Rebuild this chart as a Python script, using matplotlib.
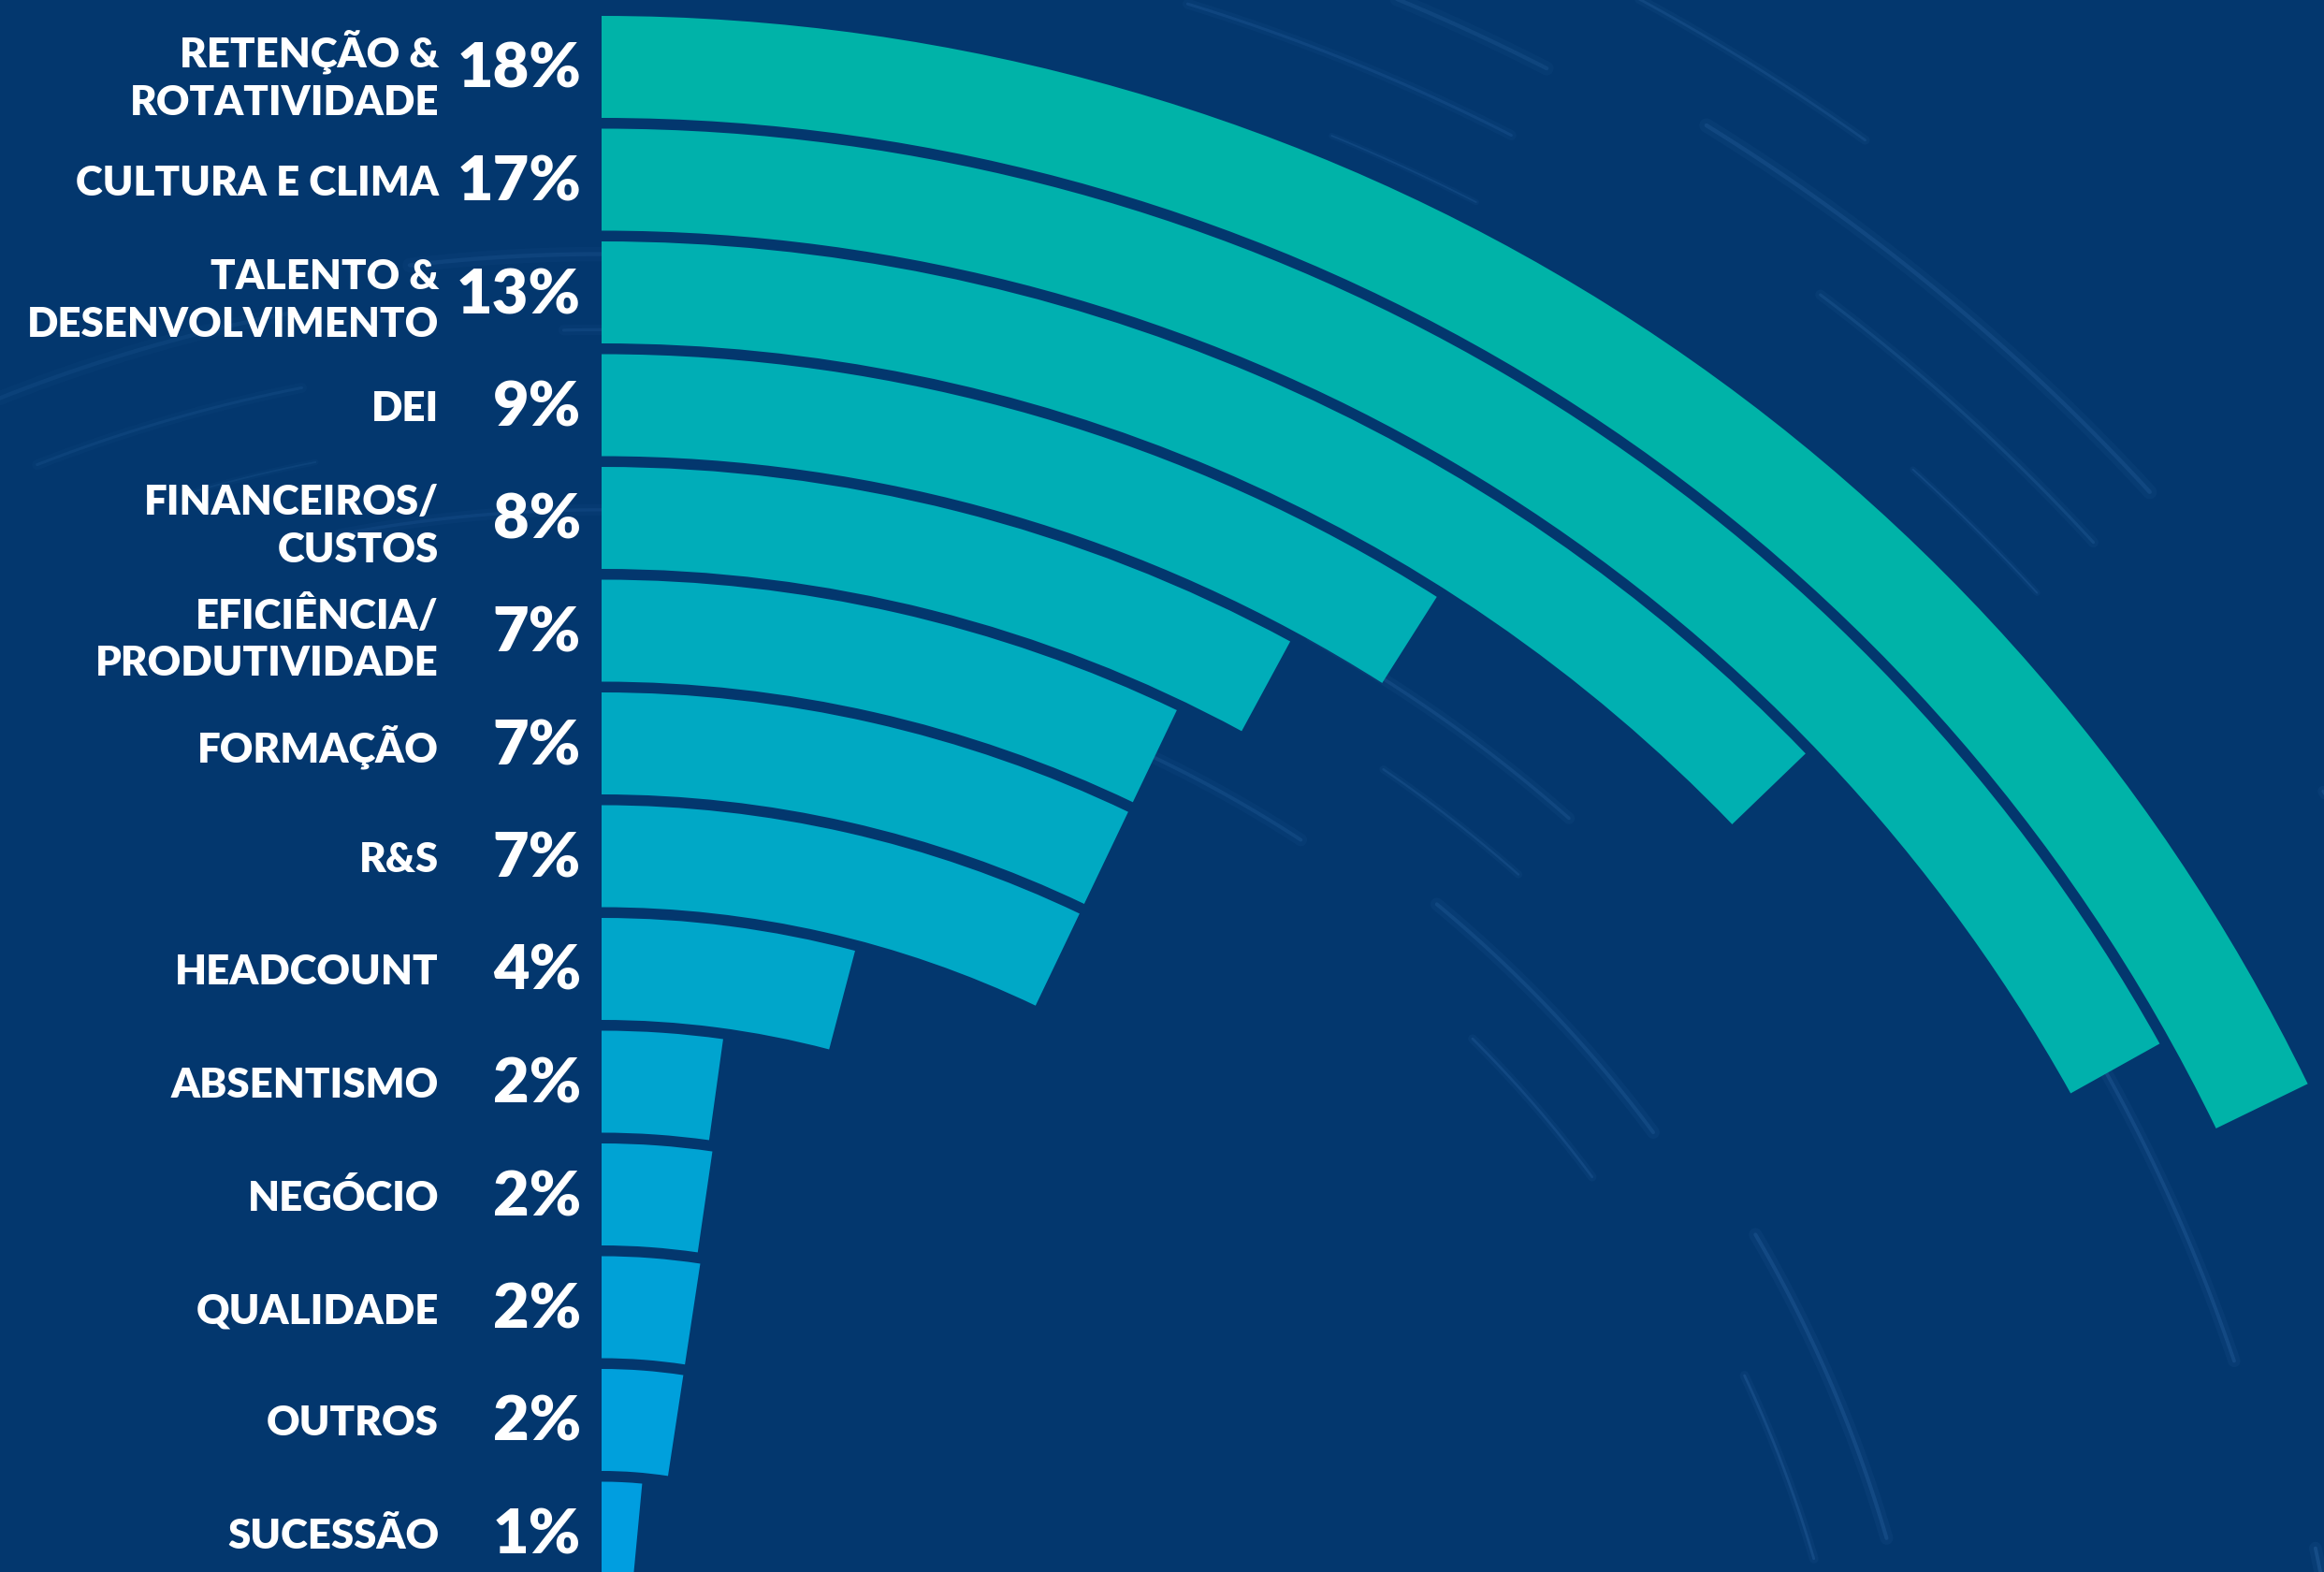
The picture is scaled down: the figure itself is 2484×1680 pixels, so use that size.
import numpy as np
import matplotlib
matplotlib.use("Agg")
import matplotlib.pyplot as plt
from matplotlib.colors import LinearSegmentedColormap

# Dados
categorias = ["RETENÇÃO &\nROTATIVIDADE", "CULTURA E CLIMA", "TALENTO &\nDESENVOLVIMENTO",
              "DEI", "FINANCEIROS/\nCUSTOS", "EFICIÊNCIA/\nPRODUTIVIDADE", "FORMAÇÃO",
              "R&S", "HEADCOUNT", "ABSENTISMO", "NEGÓCIO", "QUALIDADE", "OUTROS", "SUCESSÃO"]
valores = [17.8, 16.9, 12.8, 9.0, 7.9, 7.1, 7.1, 7.1, 4.1, 2.2, 2.3, 2.4, 2.4, 1.5]
rotulos_pct = ["18%", "17%", "13%", "9%", "8%", "7%", "7%", "7%",
               "4%", "2%", "2%", "2%", "2%", "1%"]

# Layout (pixels)
W, H = 2484, 1680
cx, cy_down = 643, 2044.6
cy = H - cy_down
R_MAX = 2800
passo, espessura, topo = 120.5, 109, 17

fundo = "#03376E"
fig = plt.figure(figsize=(W / 100, H / 100), dpi=100, facecolor=fundo)

# Eixo polar com o centro fora da figura (em baixo à esquerda)
ax = fig.add_axes([(cx - R_MAX) / W, (cy - R_MAX) / H, 2 * R_MAX / W, 2 * R_MAX / H],
                  projection="polar")
ax.set_theta_zero_location("N")
ax.set_theta_direction(-1)
ax.set_ylim(0, R_MAX)
ax.set_axis_off()

# Rastos de estrelas (decoração, suaves)
n = 60
for k in range(n):
    f1 = (k * 0.6180339) % 1
    f2 = (k * 0.7548777) % 1
    f3 = (k * 0.5698403) % 1
    r = 1300 + f1 * 1450
    t0 = np.radians(-45 + f2 * 135)
    dt = np.radians(4 + f3 * 12)
    tt = np.linspace(t0, t0 + dt, 60)
    for lw, a in [(7, 0.04), (2.0, 0.10)]:
        ax.plot(tt, np.full_like(tt, r), color="#5fa2e6", lw=lw * (0.6 + f3),
                alpha=a * (0.6 + f2), solid_capstyle="round", zorder=1)

# Barras radiais
cmap = LinearSegmentedColormap.from_list("tc", ["#00B3A8", "#009EE0"])
cores = [cmap(i / (len(valores) - 1)) for i in range(len(valores))]
raios = [cy_down - (topo + passo * i) - espessura / 2 for i in range(len(valores))]
angulos = np.array(valores) / 100 * 2 * np.pi
ax.barh(raios, angulos, left=0, height=espessura, color=cores, edgecolor="none", zorder=3)

# Textos
tax = fig.add_axes([0, 0, 1, 1])
tax.set_xlim(0, W)
tax.set_ylim(H, 0)
tax.axis("off")
tax.patch.set_alpha(0)

for i, (cat, pct) in enumerate(zip(categorias, rotulos_pct)):
    yc = topo + passo * i + espessura / 2
    dy = 9 if "\n" in cat else 4
    tax.text(469, yc + dy, cat, ha="right", va="center", multialignment="right",
             fontsize=31.5, fontweight="heavy", family="Lato", color="white", linespacing=1.33)
    tax.text(621, yc + 3, pct, ha="right", va="center",
             fontsize=48, fontweight="heavy", family="Lato", color="white")

fig.savefig("out.png", dpi=100, facecolor=fundo)
